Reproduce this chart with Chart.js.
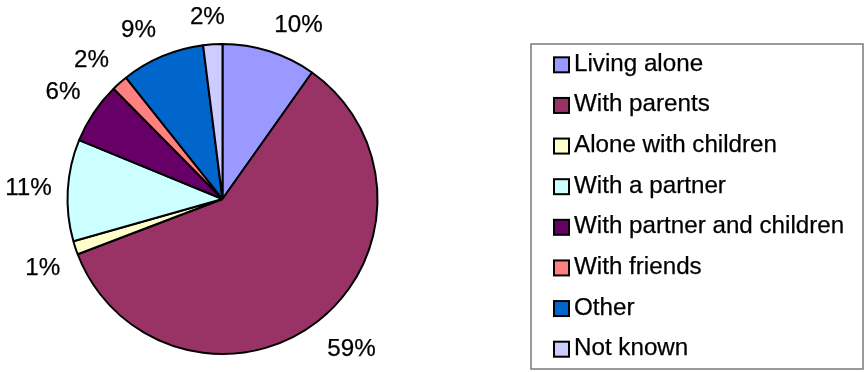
<!DOCTYPE html>
<html>
<head>
<meta charset="utf-8">
<script src="https://cdn.jsdelivr.net/npm/chart.js@4"></script>
<style>
  html, body { margin: 0; padding: 0; background: #fff; }
  canvas { display: block; }
</style>
</head>
<body>
<canvas id="chartLiving" width="865" height="372"></canvas>
<script>
// categories and shares (percent of total)
const categories = ['Living alone', 'With parents', 'Alone with children', 'With a partner',
  'With partner and children', 'With friends', 'Other', 'Not known'];
const shares = [9.8, 59.4, 1.4, 10.6, 6.4, 1.7, 8.7, 2.0];
const colours = ['#9999FF', '#993366', '#FFFFCC', '#CCFFFF', '#660066', '#FF8080', '#0066CC', '#CCCCFF'];

const FONT_SIZE = 24.2;
const FONT = FONT_SIZE + 'px "Liberation Sans", Arial, sans-serif';

// draw text a touch heavier, like the original rendering
function heavyText(ctx, txt, x, y) {
  ctx.lineWidth = 0.25;
  ctx.strokeStyle = '#000';
  ctx.strokeText(txt, x, y);
  ctx.fillText(txt, x, y);
}

// percentage labels outside each slice, box corner touching the rim
const outsideLabels = {
  id: 'outsideLabels',
  afterDatasetsDraw(chart) {
    const ctx = chart.ctx;
    const meta = chart.getDatasetMeta(0);
    const values = chart.data.datasets[0].data;
    const total = values.reduce((a, b) => a + b, 0);
    const clamp = v => Math.max(-1, Math.min(1, v));
    ctx.save();
    ctx.font = FONT;
    ctx.fillStyle = '#000';
    ctx.textAlign = 'center';
    ctx.textBaseline = 'alphabetic';
    meta.data.forEach((arc, i) => {
      const p = arc.getProps(['x', 'y', 'startAngle', 'endAngle', 'outerRadius'], true);
      const mid = (p.startAngle + p.endAngle) / 2;
      const txt = Math.round(values[i] / total * 100) + '%';
      const w = ctx.measureText(txt).width;
      const h = 26;
      const d = p.outerRadius + 16;
      const cx = Math.cos(mid), cy = Math.sin(mid);
      const x = p.x + cx * d + clamp(4 * cx) * w / 2;
      const y = p.y + cy * d + clamp(4 * cy) * h / 2;
      heavyText(ctx, txt, x, y + FONT_SIZE * 0.36);
    });
    ctx.restore();
  }
};

// boxed legend on the right
const boxLegend = {
  id: 'boxLegend',
  afterDraw(chart) {
    const ctx = chart.ctx;
    const left = 531, top = 44, right = 863, bottom = 369;
    const labels = chart.data.labels;
    const fills = chart.data.datasets[0].backgroundColor;
    const row = (bottom - top) / labels.length;
    ctx.save();
    ctx.strokeStyle = '#7a7a7a';
    ctx.lineWidth = 1.5;
    ctx.strokeRect(left, top, right - left, bottom - top);
    ctx.font = FONT;
    ctx.textBaseline = 'alphabetic';
    ctx.textAlign = 'left';
    labels.forEach((lab, i) => {
      const yc = top + row * (i + 0.5);
      ctx.fillStyle = fills[i];
      ctx.fillRect(554, yc - 7, 15, 15);
      ctx.strokeStyle = '#000';
      ctx.lineWidth = 2;
      ctx.strokeRect(554, yc - 7, 15, 15);
      ctx.fillStyle = '#000';
      heavyText(ctx, lab, 574, yc + 6.5);
    });
    ctx.restore();
  }
};

const config = {
  type: 'pie',
  data: {
    labels: categories,
    datasets: [{
      data: shares,
      backgroundColor: colours,
      borderColor: '#000',
      borderWidth: 2
    }]
  },
  options: {
    responsive: false,
    animation: false,
    layout: { padding: { left: 66, right: 486, top: 43, bottom: 17 } },
    plugins: {
      legend: { display: false },
      tooltip: { enabled: false }
    }
  },
  plugins: [outsideLabels, boxLegend]
};

new Chart(document.getElementById('chartLiving'), config);
</script>
</body>
</html>
